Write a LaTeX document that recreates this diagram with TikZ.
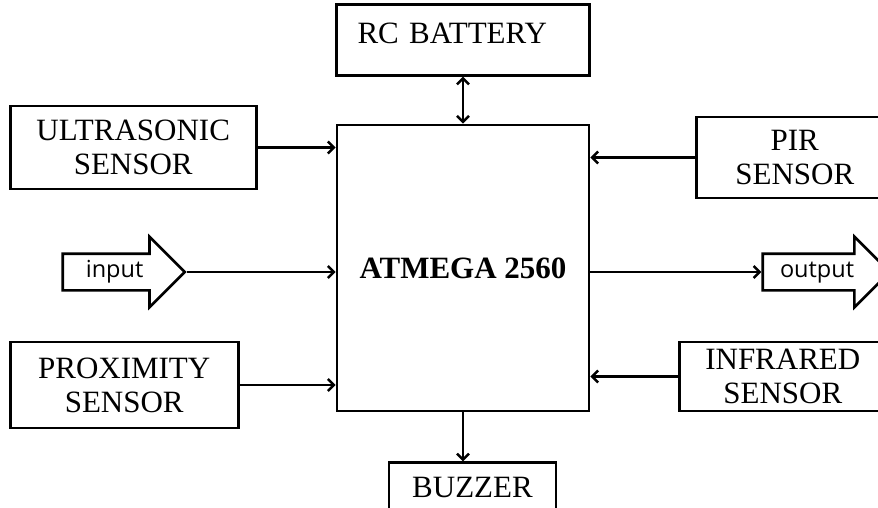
\documentclass[tikz,border=0pt]{standalone}
\usepackage{fontspec}
\setmainfont{Liberation Serif}
\newfontfamily\arrowfont{Open Sans}
\usetikzlibrary{positioning,arrows.meta,shapes.arrows}

\begin{document}
\begin{tikzpicture}[
    x=1pt, y=1pt, >={Straight Barb[length=6pt,width=12pt]},
    font=\fontsize{31}{34}\selectfont,
    blok/.style={draw, line width=2.8pt, inner sep=0pt, align=center},
    link/.style={->, line width=2.5pt},
    flow/.style={draw, single arrow, line width=2.6pt, single arrow head extend=17pt, single arrow tip angle=90,
      text height=15pt, text depth=5pt, inner ysep=7pt, inner xsep=0pt, font=\arrowfont\fontsize{23.5}{26}\selectfont},
  ]
  \clip (0,0) rectangle (878,507);
  \node[blok, minimum width=252pt, minimum height=286pt, font=\fontsize{31}{34}\selectfont\bfseries] (mcu) at (463,239) {ATMEGA 2560};
  \node[blok, above=47pt of mcu, minimum width=253pt, minimum height=71pt, text width=211pt, align=left,
    text height=20.5pt, text depth=12pt] (bat) {RC BATTERY};
  \node[blok, below=49pt of mcu, xshift=9.5pt, minimum width=167pt, minimum height=50pt] (buz) {BUZZER};
  \node[blok, left=78pt of mcu, yshift=120.5pt, minimum width=246pt, minimum height=83pt] (us) {ULTRASONIC\\SENSOR};
  \node[blok, left=96pt of mcu, yshift=-117pt, minimum width=228pt, minimum height=86pt] (prox) {PROXIMITY\\SENSOR};
  \node[blok, right=105pt of mcu, yshift=110.5pt, minimum width=196pt, minimum height=81pt] (pir) {PIR\\SENSOR};
  \node[blok, right=88pt of mcu, yshift=-108.5pt, minimum width=206pt, minimum height=69pt] (ir) {INFRARED\\SENSOR};
  \node[flow, left=149pt of mcu, yshift=-4pt, minimum height=122pt] (in) {input};
  \node[flow, right=171pt of mcu, yshift=-4pt, minimum height=127pt] (out) {output};
  % links
  \draw[<->, line width=2.5pt] (bat) -- (mcu);
  \draw[link] (mcu.south) -- (mcu.south |- buz.north);
  \draw[link] (us) -- (us -| mcu.west);
  \draw[link] (prox) -- (prox -| mcu.west);
  \draw[link] (pir) -- (pir -| mcu.east);
  \draw[link] (ir) -- (ir -| mcu.east);
  \draw[link] (in.tip) -- (in.tip -| mcu.west);
  \draw[link] (mcu.east |- out.tail) -- (out.tail);
\end{tikzpicture}
\end{document}
